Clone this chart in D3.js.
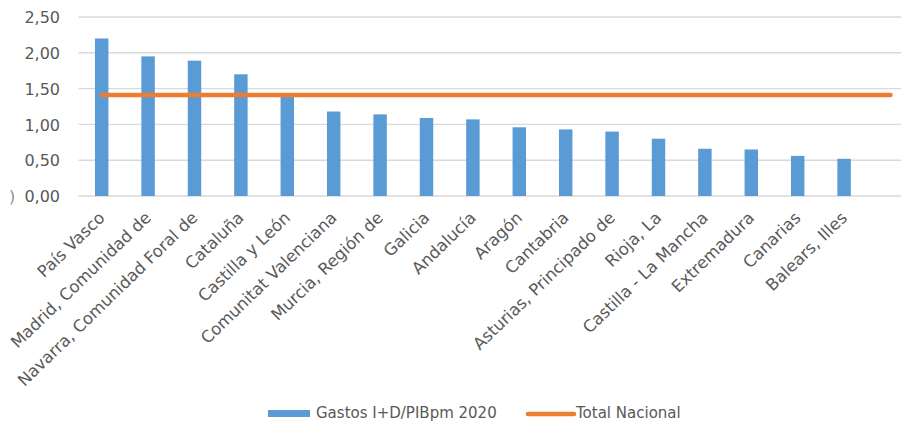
<!DOCTYPE html>
<html>
<head>
<meta charset="utf-8">
<script src="https://cdn.jsdelivr.net/npm/d3@7/dist/d3.min.js"></script>
<style>
  html, body { margin: 0; padding: 0; background: #fff; }
  svg { display: block; }
  text { font-family: "DejaVu Sans", sans-serif; fill: #595959; }
</style>
</head>
<body>
<svg id="chart" width="901" height="423"></svg>
<script>
// ---- data ----
const categories = [
  "País Vasco", "Madrid, Comunidad de", "Navarra, Comunidad Foral de", "Cataluña",
  "Castilla y León", "Comunitat Valenciana", "Murcia, Región de", "Galicia",
  "Andalucía", "Aragón", "Cantabria", "Asturias, Principado de", "Rioja, La",
  "Castilla - La Mancha", "Extremadura", "Canarias", "Balears, Illes", ""
];
const gastos = [2.20, 1.95, 1.89, 1.70, 1.39, 1.18, 1.14, 1.09, 1.07, 0.96, 0.93, 0.90, 0.80, 0.66, 0.65, 0.56, 0.52, null];
const totalNacional = [1.41, 1.41, 1.41, 1.41, 1.41, 1.41, 1.41, 1.41, 1.41, 1.41, 1.41, 1.41, 1.41, 1.41, 1.41, 1.41, 1.41, 1.41];
const yTicks = [0, 0.5, 1.0, 1.5, 2.0, 2.5];
const seriesNames = ["Gastos I+D/PIBpm 2020", "Total Nacional"];

// ---- layout ----
const svg = d3.select("#chart");
const plotLeft = 78.5, plotRight = 913.7, plotTop = 17, plotBottom = 196;
const blue = "#5b9bd5", orange = "#ed7d31", grid = "#d9d9d9";

const x = d3.scaleBand()
  .domain(d3.range(categories.length))
  .range([plotLeft, plotRight])
  .paddingInner(0.71)
  .paddingOuter(0.355);

const y = d3.scaleLinear().domain([0, 2.5]).range([plotBottom, plotTop]);

const locale = d3.formatLocale({ decimal: ",", thousands: ".", grouping: [3], currency: ["", "€"] });
const fmt = locale.format(".2f");

// gridlines
svg.append("g")
  .selectAll("line")
  .data(yTicks)
  .join("line")
  .attr("x1", plotLeft)
  .attr("x2", 901)
  .attr("y1", d => y(d))
  .attr("y2", d => y(d))
  .attr("stroke", grid)
  .attr("stroke-width", 1.4);

// y axis labels
const yAxis = d3.axisLeft(y).tickValues(yTicks).tickFormat(fmt).tickSize(0).tickPadding(0);
const yg = svg.append("g").attr("transform", "translate(60,0)").call(yAxis);
yg.select(".domain").remove();
yg.selectAll("text")
  .style("font-family", "DejaVu Sans, sans-serif")
  .style("font-size", "16px")
  .attr("fill", "#595959")
  .attr("dy", "0.36em");

// cropped glyph fragment at left edge of the picture
svg.append("text").attr("x", 9).attr("y", y(0) + 6).style("font-size", "16px")
  .attr("fill", "#8c8c8c").style("fill", "#8c8c8c").text(")");

// bars
svg.append("g")
  .selectAll("rect")
  .data(gastos.map((v, i) => ({ v, i })).filter(d => d.v !== null))
  .join("rect")
  .attr("x", d => x(d.i))
  .attr("width", x.bandwidth())
  .attr("y", d => y(d.v))
  .attr("height", d => y(0) - y(d.v))
  .attr("fill", blue);

// total nacional line
const line = d3.line()
  .x((d, i) => x(i) + x.bandwidth() / 2)
  .y(d => y(d));
svg.append("path")
  .datum(totalNacional)
  .attr("d", line)
  .attr("fill", "none")
  .attr("stroke", orange)
  .attr("stroke-width", 4.5)
  .attr("stroke-linecap", "round");

// x labels
svg.append("g")
  .selectAll("text")
  .data(categories.map((c, i) => ({ c, i })).filter(d => d.c !== ""))
  .join("text")
  .attr("transform", d => `translate(${x(d.i) + x.bandwidth() / 2 + 4},219) rotate(-44)`)
  .attr("text-anchor", "end")
  .style("font-size", "16.5px")
  .text(d => d.c);

// legend
const lg = svg.append("g");
lg.append("rect").attr("x", 268).attr("y", 410).attr("width", 42).attr("height", 7).attr("fill", blue);
lg.append("text").attr("x", 316).attr("y", 418).style("font-size", "15px").text(seriesNames[0]);
lg.append("line").attr("x1", 528).attr("x2", 574).attr("y1", 414).attr("y2", 414)
  .attr("stroke", orange).attr("stroke-width", 4.5).attr("stroke-linecap", "round");
lg.append("text").attr("x", 576).attr("y", 418).style("font-size", "15px").text(seriesNames[1]);
</script>
</body>
</html>
